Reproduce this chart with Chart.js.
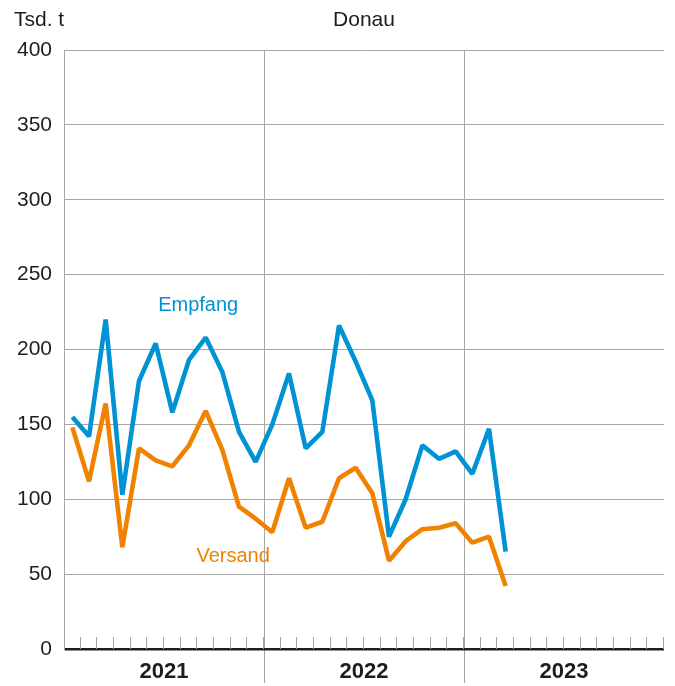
<!DOCTYPE html>
<html lang="de">
<head>
<meta charset="utf-8">
<title>Donau – Empfang und Versand</title>
<script src="https://cdn.jsdelivr.net/npm/chart.js@4/dist/chart.umd.min.js"></script>
<style>
  html, body { margin: 0; padding: 0; background: #fff; }
  #wrap { width: 675px; height: 686px; position: relative; }
</style>
</head>
<body>
<div id="wrap"><canvas id="donau-chart"></canvas></div>
<script>
// monthly values, Jan 2021 .. Mar 2023 (Tsd. t)
const months = [];
const years = ['2021', '2022', '2023'];
years.forEach(y => {
  for (let m = 1; m <= 12; m++) months.push(y + '-' + String(m).padStart(2, '0'));
});

const empfang = [
  155, 142, 220, 103, 179, 204, 158, 193, 208, 185, 145, 125,
  150, 184, 134, 145, 216, 192, 166, 75, 100, 136, 127, 132,
  117, 147, 65
];
const versand = [
  148, 112, 164, 68, 134, 126, 122, 136, 159, 133, 95, 87,
  78, 114, 81, 85, 114, 121, 104, 59, 72, 80, 81, 84,
  71, 75, 42
];

const yTicks = [0, 50, 100, 150, 200, 250, 300, 350, 400];

const BLUE = '#0093d3';
const ORANGE = '#f08200';
const GRID = '#a6a6a6';
const TEXT = '#1d1d1b';
const FONT = "'Liberation Sans', Arial, sans-serif";

// where the series names sit, in data units (month index, value)
const seriesLabels = [
  { text: 'Empfang', color: BLUE, at: 7.55, value: 226 },
  { text: 'Versand', color: ORANGE, at: 9.65, value: 58 }
];

// header texts + series names
const textPlugin = {
  id: 'texts',
  afterDraw(chart) {
    const ctx = chart.ctx;
    const area = chart.chartArea;
    const x = chart.scales.x;
    const y = chart.scales.y;
    ctx.save();
    ctx.fillStyle = TEXT;
    ctx.font = '21px ' + FONT;
    ctx.textBaseline = 'alphabetic';
    ctx.textAlign = 'left';
    ctx.fillText('Tsd. t', 14, 26);
    ctx.textAlign = 'center';
    ctx.fillText('Donau', (area.left + area.right) / 2, 26);

    ctx.font = '20px ' + FONT;
    seriesLabels.forEach(l => {
      ctx.fillStyle = l.color;
      ctx.fillText(l.text, x.getPixelForValue(l.at), y.getPixelForValue(l.value));
    });
    ctx.restore();
  }
};

// short month marks standing on the zero line
const monthTicks = {
  id: 'monthTicks',
  beforeDatasetsDraw(chart) {
    const ctx = chart.ctx;
    const x = chart.scales.x;
    const base = chart.scales.y.getPixelForValue(0);
    const step = (x.right - x.left) / months.length;
    ctx.save();
    ctx.strokeStyle = GRID;
    ctx.lineWidth = 1;
    ctx.beginPath();
    for (let i = 1; i <= months.length; i++) {
      const px = Math.round(x.left + i * step) - 0.5;
      ctx.moveTo(px, base);
      ctx.lineTo(px, base - 12);
    }
    ctx.stroke();
    ctx.restore();
  }
};

const isYearLine = c => c.index === 1 || c.index === 2;

new Chart(document.getElementById('donau-chart'), {
  type: 'line',
  data: {
    labels: months,
    datasets: [
      {
        label: 'Empfang',
        data: empfang,
        borderColor: BLUE,
        borderWidth: 4.6,
        pointRadius: 0,
        tension: 0,
        borderJoinStyle: 'bevel'
      },
      {
        label: 'Versand',
        data: versand,
        borderColor: ORANGE,
        borderWidth: 4.6,
        pointRadius: 0,
        tension: 0,
        borderJoinStyle: 'bevel'
      }
    ]
  },
  options: {
    responsive: true,
    maintainAspectRatio: false,
    animation: false,
    layout: { padding: { top: 50, right: 11, left: 0, bottom: 0 } },
    plugins: {
      legend: { display: false },
      tooltip: { enabled: false }
    },
    scales: {
      x: {
        type: 'category',
        display: false,
        offset: true
      },
      years: {
        type: 'category',
        labels: years,
        position: 'bottom',
        offset: true,
        border: { display: false },
        grid: {
          offset: true,
          drawOnChartArea: true,
          color: c => isYearLine(c) ? GRID : 'transparent',
          tickColor: c => isYearLine(c) ? GRID : 'transparent',
          tickLength: 34,
          lineWidth: 1
        },
        ticks: {
          color: TEXT,
          font: { family: FONT, size: 22, weight: 'bold' },
          padding: -24,
          maxRotation: 0
        },
        afterFit(scale) { scale.height = 37; }
      },
      y: {
        min: 0,
        max: 400,
        afterBuildTicks(scale) { scale.ticks = yTicks.map(v => ({ value: v })); },
        border: { display: true, color: GRID, width: 1 },
        grid: {
          drawTicks: false,
          color: c => c.tick && c.tick.value === 0 ? TEXT : GRID,
          lineWidth: c => c.tick && c.tick.value === 0 ? 2.5 : 1
        },
        ticks: {
          color: TEXT,
          font: { family: FONT, size: 21 },
          padding: 12
        },
        afterFit(scale) { scale.width = 64; }
      }
    }
  },
  plugins: [monthTicks, textPlugin]
});
</script>
</body>
</html>
